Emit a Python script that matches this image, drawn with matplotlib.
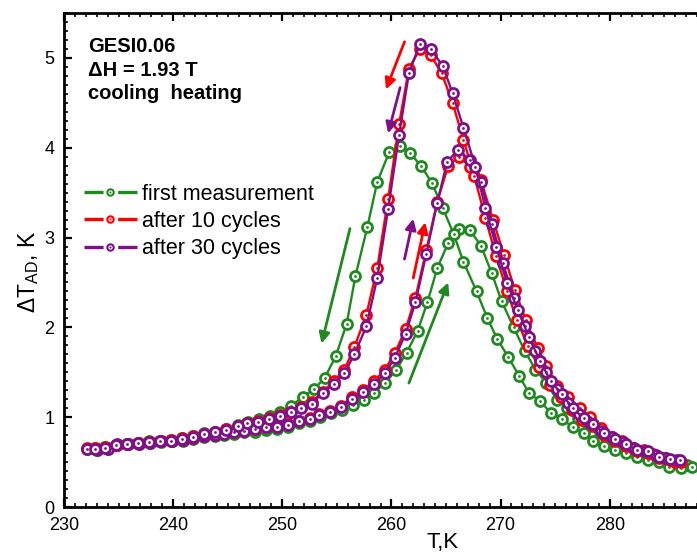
import matplotlib
matplotlib.use("Agg")
import matplotlib.pyplot as plt
from matplotlib.lines import Line2D
from matplotlib.ticker import MultipleLocator, FuncFormatter
from matplotlib.legend_handler import HandlerTuple

plt.rcParams['font.family'] = ['Liberation Sans', 'DejaVu Sans']
plt.rcParams['mathtext.fontset'] = 'custom'
plt.rcParams['mathtext.rm'] = 'Liberation Sans'
plt.rcParams['mathtext.it'] = 'Liberation Sans'
plt.rcParams['lines.scale_dashes'] = False

# ---- first measurement (green) ----
T_first_heat = [232.1, 233.0, 234.0, 234.9, 235.9, 236.9, 237.9, 238.9, 239.9, 240.9,
                241.8, 242.8, 243.8, 244.7, 245.6, 246.5, 247.5, 248.5, 249.5, 250.5,
                251.5, 252.5, 253.5, 254.5, 255.5, 256.5, 257.5, 258.4, 259.4, 260.4,
                261.4, 262.4, 263.3, 264.2, 265.2, 266.2, 267.2, 268.2, 269.2, 270.1,
                271.2, 272.2, 273.2, 274.2, 275.2, 276.1, 277.1, 278.1, 279.1, 280.1,
                281.1, 282.1, 283.1, 284.1, 285.1, 286.1, 287.1]
dT_first_heat = [0.65, 0.64, 0.65, 0.69, 0.70, 0.70, 0.71, 0.72, 0.73, 0.74,
                 0.76, 0.78, 0.79, 0.80, 0.81, 0.83, 0.84, 0.86, 0.87, 0.89,
                 0.93, 0.96, 1.00, 1.05, 1.08, 1.14, 1.19, 1.27, 1.38, 1.52,
                 1.72, 1.96, 2.28, 2.66, 2.94, 3.09, 3.08, 2.91, 2.60, 2.29,
                 2.00, 1.74, 1.53, 1.38, 1.19, 1.10, 0.99, 0.90, 0.83, 0.76,
                 0.70, 0.66, 0.61, 0.57, 0.54, 0.51, 0.47]
T_first_cool = [287.5, 286.5, 285.4, 284.5, 283.5, 282.5, 281.5, 280.5, 279.5, 278.5,
                277.6, 276.6, 275.6, 274.6, 273.6, 272.6, 271.7, 270.7, 269.7, 268.8,
                267.8, 266.6, 265.7, 264.7, 263.7, 262.7, 261.7, 260.8, 259.8, 258.7,
                257.8, 256.7, 255.9, 254.9, 253.9, 252.9, 251.9, 250.8, 249.8, 248.9,
                247.9, 246.9, 245.9, 244.8, 243.8, 242.8, 241.8, 240.8, 239.8, 238.8,
                237.8, 236.8, 235.8, 234.8, 233.8, 232.8]
dT_first_cool = [0.44, 0.43, 0.44, 0.50, 0.52, 0.56, 0.60, 0.64, 0.68, 0.73,
                 0.82, 0.89, 0.98, 1.05, 1.18, 1.27, 1.46, 1.67, 1.87, 2.10,
                 2.40, 2.73, 3.04, 3.33, 3.61, 3.80, 3.94, 4.02, 3.95, 3.62,
                 3.12, 2.57, 2.04, 1.68, 1.44, 1.31, 1.23, 1.12, 1.06, 1.01,
                 0.98, 0.95, 0.91, 0.87, 0.84, 0.82, 0.79, 0.77, 0.75, 0.74,
                 0.73, 0.71, 0.70, 0.69, 0.67, 0.66]

# ---- after 10 cycles (red) ----
T_10_heat = [232.1, 233.0, 234.0, 234.9, 235.9, 236.9, 237.9, 238.9, 239.9, 240.9,
             241.8, 242.8, 243.8, 244.7, 245.6, 246.5, 247.5, 248.5, 249.5, 250.5,
             251.5, 252.5, 253.4, 254.4, 255.4, 256.4, 257.4, 258.4, 259.4, 260.3,
             261.3, 262.2, 263.2, 264.2, 265.2, 266.2, 267.2, 268.2, 269.3, 270.3,
             271.3, 272.3, 273.4, 274.2, 275.2, 276.2, 277.3, 278.2, 279.2, 280.2,
             281.1, 282.1, 283.1, 284.0, 285.0, 286.0]
dT_10_heat = [0.66, 0.65, 0.66, 0.69, 0.70, 0.71, 0.72, 0.73, 0.74, 0.75,
              0.77, 0.79, 0.80, 0.82, 0.83, 0.85, 0.87, 0.89, 0.90, 0.92,
              0.96, 0.99, 1.03, 1.07, 1.13, 1.22, 1.30, 1.40, 1.53, 1.71,
              1.98, 2.33, 2.86, 3.40, 3.80, 3.90, 3.79, 3.64, 3.20, 2.81,
              2.42, 2.08, 1.77, 1.57, 1.35, 1.22, 1.10, 1.00, 0.88, 0.78,
              0.73, 0.66, 0.63, 0.59, 0.55, 0.50]
T_10_cool = [286.5, 285.5, 284.5, 283.5, 282.5, 281.5, 280.5, 279.5, 278.5, 277.5,
             276.5, 275.5, 274.5, 273.5, 272.5, 271.5, 270.6, 269.6, 268.6, 267.6,
             266.6, 265.6, 264.6, 263.6, 262.6, 261.6, 260.7, 259.7, 258.7, 257.7,
             256.6, 255.7, 254.7, 253.7, 252.7, 251.7, 250.7, 249.8, 248.8, 247.8,
             246.8, 245.9, 244.8, 243.8, 242.8, 241.8, 240.8, 239.8, 238.8, 237.8,
             236.8, 235.8, 234.8, 233.8, 232.8]
dT_10_cool = [0.50, 0.52, 0.55, 0.60, 0.62, 0.68, 0.74, 0.80, 0.90, 0.97,
              1.08, 1.22, 1.36, 1.56, 1.79, 2.08, 2.40, 2.79, 3.22, 3.68,
              4.09, 4.50, 4.83, 5.03, 5.10, 4.88, 4.26, 3.43, 2.66, 2.14,
              1.78, 1.53, 1.40, 1.28, 1.17, 1.11, 1.06, 1.02, 0.99, 0.96,
              0.93, 0.90, 0.87, 0.84, 0.81, 0.79, 0.77, 0.75, 0.74, 0.72,
              0.71, 0.70, 0.69, 0.67, 0.66]

# ---- after 30 cycles (purple) ----
T_30_heat = [232.1, 233.0, 234.0, 234.9, 235.9, 236.9, 237.9, 238.9, 239.9, 240.9,
             241.8, 242.8, 243.8, 244.7, 245.6, 246.5, 247.5, 248.5, 249.5, 250.5,
             251.5, 252.5, 253.4, 254.4, 255.4, 256.4, 257.4, 258.4, 259.4, 260.3,
             261.3, 262.2, 263.2, 264.2, 265.1, 266.1, 267.2, 268.2, 269.2, 270.2,
             271.2, 272.2, 273.2, 274.2, 275.2, 276.2, 277.2, 278.2, 279.2, 280.2,
             281.2, 282.2, 283.2, 284.2, 285.2, 286.2]
dT_30_heat = [0.65, 0.64, 0.65, 0.70, 0.70, 0.70, 0.71, 0.73, 0.73, 0.75,
              0.77, 0.79, 0.80, 0.81, 0.83, 0.85, 0.87, 0.89, 0.89, 0.91,
              0.96, 0.98, 1.02, 1.06, 1.11, 1.20, 1.28, 1.37, 1.49, 1.66,
              1.93, 2.28, 2.82, 3.39, 3.84, 3.98, 3.86, 3.62, 3.15, 2.72,
              2.33, 2.02, 1.74, 1.50, 1.31, 1.16, 1.03, 0.94, 0.85, 0.78,
              0.72, 0.66, 0.62, 0.58, 0.54, 0.52]
T_30_cool = [286.4, 285.5, 284.5, 283.5, 282.5, 281.5, 280.5, 279.5, 278.5, 277.6,
             276.6, 275.6, 274.6, 273.6, 272.6, 271.6, 270.6, 269.6, 268.6, 267.7,
             266.6, 265.6, 264.7, 263.6, 262.6, 261.6, 260.7, 259.7, 258.7, 257.7,
             256.6, 255.7, 254.7, 253.7, 252.7, 251.7, 250.8, 249.8, 248.8, 247.8,
             246.8, 245.9, 244.8, 243.8, 242.8, 241.8, 240.8, 239.8, 238.8, 237.8,
             236.8, 235.8, 234.8, 233.8, 232.8]
dT_30_cool = [0.52, 0.53, 0.56, 0.62, 0.63, 0.70, 0.76, 0.82, 0.92, 0.99,
              1.10, 1.26, 1.40, 1.63, 1.89, 2.19, 2.49, 2.90, 3.33, 3.79,
              4.22, 4.61, 4.91, 5.10, 5.15, 4.83, 4.14, 3.32, 2.55, 2.01,
              1.70, 1.49, 1.37, 1.27, 1.15, 1.10, 1.06, 1.01, 0.98, 0.95,
              0.93, 0.90, 0.86, 0.83, 0.81, 0.78, 0.76, 0.74, 0.73, 0.72,
              0.71, 0.70, 0.69, 0.66, 0.65]

labels = ['first measurement', 'after 10 cycles', 'after 30 cycles']
colors = ['#1f8a1f', '#ff0000', '#80108a']
info_lines = ['GESI0.06', 'ΔH = 1.93 T', 'cooling  heating']

# direction arrows: (tail T, tail dT), (head T, head dT), colour index
arrows = [((256.2, 3.10), (253.6, 1.82), 0),
          ((261.6, 1.38), (265.2, 2.50), 0),
          ((261.2, 5.18), (259.5, 4.65), 1),
          ((262.0, 2.55), (263.1, 3.17), 1),
          ((260.8, 4.67), (259.7, 4.16), 2),
          ((261.2, 2.76), (262.0, 3.21), 2)]

W, H = 697, 552
fig = plt.figure(figsize=(W / 100, H / 100), dpi=100)
ax_left, ax_bottom, ax_top = 64, 45, 539
ax_w_px = 758
ax_h_px = ax_top - ax_bottom
ax = fig.add_axes([ax_left / W, ax_bottom / H, ax_w_px / W, ax_h_px / H])

series = [(T_first_heat, dT_first_heat, T_first_cool, dT_first_cool),
          (T_10_heat, dT_10_heat, T_10_cool, dT_10_cool),
          (T_30_heat, dT_30_heat, T_30_cool, dT_30_cool)]

for (th, vh, tc, vc), col in zip(series, colors):
    for tt, vv in ((th, vh), (tc, vc)):
        ax.plot(tt, vv, '-', color=col, lw=1.7, marker='o', ms=7.2,
                mfc='white', mec=col, mew=2.0, zorder=3)
        ax.plot(tt, vv, 'o', ls='none', color=col, ms=2.0, mew=0, zorder=3)

# legend keys: a line broken around a small ringed marker
leg_size = 15.5
handle_len = 2.45
key_pt = handle_len * leg_size
gap_pt = 10.5
side_pt = (key_pt - gap_pt) / 2
handles = []
for col in colors:
    seg = Line2D([], [], color=col, lw=2.4, dash_capstyle='butt',
                 dashes=(side_pt, gap_pt, side_pt + 1, 200))
    ring = Line2D([], [], ls='none', marker='o', ms=4.6, mfc='white', mec=col, mew=1.5)
    dot = Line2D([], [], ls='none', marker='o', ms=1.5, color=col, mew=0)
    handles.append((seg, ring, dot))

for (t0, v0), (t1, v1), ci in arrows:
    ax.annotate('', xy=(t1, v1), xytext=(t0, v0),
                arrowprops=dict(arrowstyle='-|>', color=colors[ci], lw=2.0,
                                mutation_scale=16, shrinkA=0, shrinkB=0),
                zorder=4)

ax.set_xlim(230, 299.45)
ax.set_ylim(0, 5.5)
ax.xaxis.set_major_locator(MultipleLocator(10))
ax.xaxis.set_minor_locator(MultipleLocator(1))
ax.xaxis.set_major_formatter(FuncFormatter(lambda v, p: f'{v:.0f}' if v < 285 else ''))
ax.yaxis.set_major_locator(MultipleLocator(1))
ax.yaxis.set_minor_locator(MultipleLocator(0.1))
ax.tick_params(which='both', direction='in', top=True, right=True,
               labelsize=13, pad=7)
ax.tick_params(which='major', length=5.5, width=1.6)
ax.tick_params(which='minor', length=3.0, width=1.2)
for s in ax.spines.values():
    s.set_linewidth(2.0)

ax.set_xlabel('T,K', fontsize=16, labelpad=-1)
ax.set_ylabel('ΔT$_{\\mathrm{AD}}$, K', fontsize=16.5, labelpad=2,
              y=(H - 272 - ax_bottom) / ax_h_px)

x_txt = (88 - ax_left) / ax_w_px
for s, py in zip(info_lines, (52, 75.5, 99)):
    ax.text(x_txt, (H - py - ax_bottom) / ax_h_px, s,
            transform=ax.transAxes, fontsize=14.5, fontweight='bold', va='baseline')

leg = ax.legend(handles, labels, handler_map={tuple: HandlerTuple(ndivide=1, pad=0)},
                loc='upper left', bbox_to_anchor=(84 / W, 1 - 184 / H),
                bbox_transform=fig.transFigure, frameon=False, fontsize=leg_size,
                handlelength=handle_len, handletextpad=0.25, labelspacing=0.28,
                borderpad=0, borderaxespad=0)

fig.savefig('out.png', dpi=100)
